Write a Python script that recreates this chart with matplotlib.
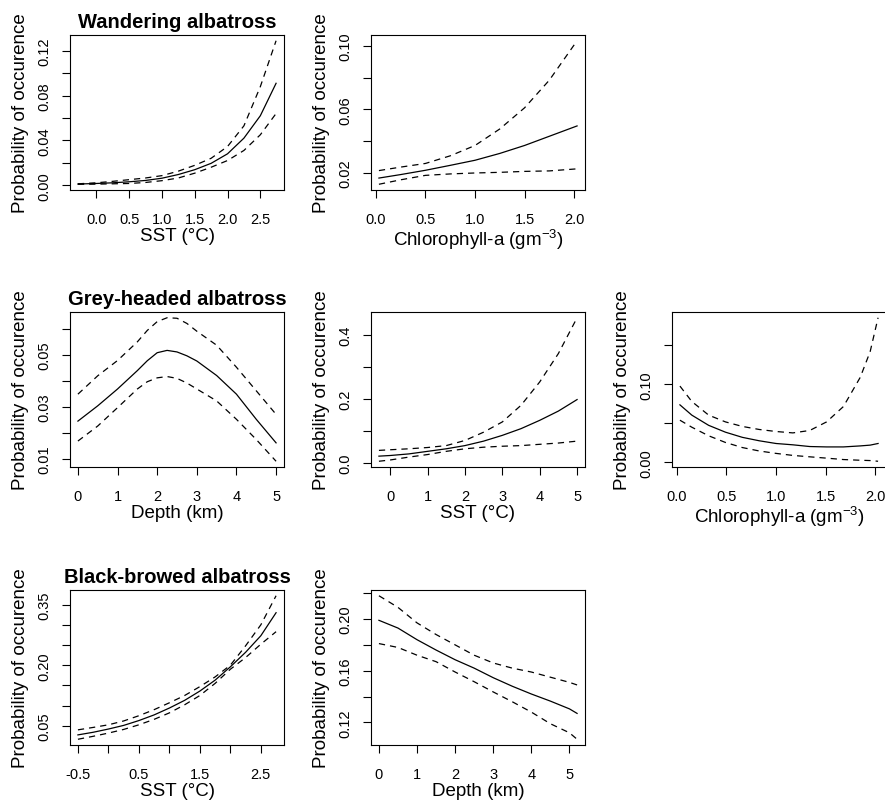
import numpy as np
import matplotlib
matplotlib.use("Agg")
import matplotlib.pyplot as plt

plt.rcParams['font.family'] = ['Liberation Sans', 'DejaVu Sans']
plt.rcParams['mathtext.fontset'] = 'custom'
plt.rcParams['mathtext.rm'] = 'Liberation Sans'
plt.rcParams['mathtext.it'] = 'Liberation Sans:italic'
plt.rcParams['mathtext.bf'] = 'Liberation Sans:bold'

# ---------------------------------------------------------------
# Partial effects (fit, lower and upper bounds) for each species
# ---------------------------------------------------------------

# Wandering albatross - SST
wa_sst_x = [-0.28, 0.0, 0.25, 0.5, 0.75, 1.0, 1.25, 1.5, 1.75, 2.0, 2.25, 2.5, 2.74]
wa_sst_fit = [0.0010, 0.0015, 0.0021, 0.0030, 0.0042, 0.0062, 0.0095, 0.0138, 0.0195, 0.028, 0.042, 0.062, 0.091]
wa_sst_lo = [0.0008, 0.0009, 0.0012, 0.0015, 0.0024, 0.0040, 0.0064, 0.0107, 0.016, 0.022, 0.031, 0.045, 0.064]
wa_sst_hi = [0.0012, 0.0021, 0.0034, 0.0049, 0.0064, 0.0085, 0.0125, 0.0177, 0.024, 0.0345, 0.053, 0.088, 0.129]

# Wandering albatross - Chlorophyll-a
wa_chl_x = [0.03, 0.25, 0.5, 0.75, 1.0, 1.25, 1.5, 1.75, 2.03]
wa_chl_fit = [0.0168, 0.019, 0.0217, 0.0248, 0.028, 0.0323, 0.0373, 0.0431, 0.0496]
wa_chl_lo = [0.0129, 0.0157, 0.0185, 0.0194, 0.020, 0.0204, 0.021, 0.0213, 0.0226]
wa_chl_hi = [0.0215, 0.0237, 0.026, 0.0308, 0.0373, 0.0477, 0.061, 0.0784, 0.1032]

# Grey-headed albatross - Depth
gh_dep_x = [0.0, 0.5, 1.0, 1.5, 1.75, 2.0, 2.25, 2.5, 2.75, 3.0, 3.5, 4.0, 4.5, 5.0]
gh_dep_fit = [0.0245, 0.0304, 0.0369, 0.044, 0.0478, 0.0509, 0.0518, 0.0512, 0.0497, 0.0477, 0.0421, 0.0349, 0.0252, 0.0161]
gh_dep_lo = [0.0168, 0.0226, 0.0297, 0.0369, 0.0397, 0.0412, 0.0417, 0.0410, 0.0392, 0.0369, 0.0323, 0.0252, 0.0174, 0.0090]
gh_dep_hi = [0.0349, 0.042, 0.0479, 0.0551, 0.0595, 0.0629, 0.0644, 0.0642, 0.0622, 0.0592, 0.0538, 0.0453, 0.0362, 0.0271]

# Grey-headed albatross - SST
gh_sst_x = [-0.3, 0.0, 0.5, 1.0, 1.5, 2.0, 2.5, 3.0, 3.5, 4.0, 4.5, 5.0]
gh_sst_fit = [0.021, 0.023, 0.028, 0.036, 0.044, 0.054, 0.068, 0.086, 0.107, 0.133, 0.162, 0.198]
gh_sst_lo = [0.005, 0.009, 0.018, 0.026, 0.036, 0.044, 0.049, 0.052, 0.054, 0.058, 0.062, 0.068]
gh_sst_hi = [0.039, 0.041, 0.044, 0.048, 0.054, 0.070, 0.096, 0.128, 0.180, 0.253, 0.342, 0.454]

# Grey-headed albatross - Chlorophyll-a
gh_chl_x = [0.03, 0.15, 0.32, 0.49, 0.66, 0.83, 1.0, 1.17, 1.34, 1.51, 1.68, 1.85, 1.95, 2.03]
gh_chl_fit = [0.0737, 0.0605, 0.0474, 0.0386, 0.032, 0.0276, 0.0241, 0.0224, 0.0202, 0.0197, 0.0197, 0.021, 0.022, 0.0241]
gh_chl_lo = [0.054, 0.045, 0.034, 0.0254, 0.0189, 0.0145, 0.0114, 0.0088, 0.007, 0.0053, 0.0035, 0.0026, 0.0022, 0.0013]
gh_chl_hi = [0.0978, 0.078, 0.0605, 0.0518, 0.046, 0.0421, 0.0395, 0.0377, 0.0408, 0.0518, 0.0715, 0.109, 0.142, 0.1855]

# Black-browed albatross - SST
bb_sst_x = [-0.5, -0.25, 0.0, 0.25, 0.5, 0.75, 1.0, 1.25, 1.5, 1.75, 2.0, 2.25, 2.5, 2.75]
bb_sst_fit = [0.0275, 0.034, 0.042, 0.051, 0.063, 0.077, 0.094, 0.113, 0.136, 0.163, 0.196, 0.232, 0.273, 0.330]
bb_sst_lo = [0.0167, 0.024, 0.032, 0.041, 0.0525, 0.066, 0.082, 0.102, 0.125, 0.155, 0.190, 0.219, 0.252, 0.283]
bb_sst_hi = [0.040, 0.046, 0.0525, 0.062, 0.075, 0.090, 0.107, 0.125, 0.147, 0.171, 0.200, 0.248, 0.300, 0.372]

# Black-browed albatross - Depth
bb_dep_x = [0.0, 0.5, 1.0, 1.5, 2.0, 2.5, 3.0, 3.5, 4.0, 4.5, 5.0, 5.2]
bb_dep_fit = [0.199, 0.193, 0.184, 0.176, 0.1685, 0.162, 0.1546, 0.148, 0.142, 0.1365, 0.1305, 0.127]
bb_dep_lo = [0.181, 0.178, 0.172, 0.167, 0.159, 0.1515, 0.1436, 0.136, 0.128, 0.119, 0.112, 0.107]
bb_dep_hi = [0.218, 0.209, 0.197, 0.188, 0.180, 0.172, 0.166, 0.162, 0.159, 0.155, 0.151, 0.149]

# axis labels
lab_y = "Probability of occurence"
lab_sst = "SST (\u00b0C)"
lab_dep = "Depth (km)"
lab_chl = "Chlorophyll-a (gm$^{-3}$)"

# tick positions / labels for each panel
wa_sst_yt = [0.0, 0.02, 0.04, 0.06, 0.08, 0.10, 0.12]
wa_sst_yl = ["0.00", "", "0.04", "", "0.08", "", "0.12"]
wa_sst_xt = [0.0, 0.5, 1.0, 1.5, 2.0, 2.5]
wa_sst_xl = ["0.0", "0.5", "1.0", "1.5", "2.0", "2.5"]

wa_chl_yt = [0.02, 0.04, 0.06, 0.08, 0.10]
wa_chl_yl = ["0.02", "", "0.06", "", "0.10"]
chl_xt = [0.0, 0.5, 1.0, 1.5, 2.0]
chl_xl = ["0.0", "0.5", "1.0", "1.5", "2.0"]

gh_dep_yt = [0.01, 0.02, 0.03, 0.04, 0.05, 0.06]
gh_dep_yl = ["0.01", "", "0.03", "", "0.05", ""]
dep_xt = [0, 1, 2, 3, 4, 5]
dep_xl = ["0", "1", "2", "3", "4", "5"]

gh_sst_yt = [0.0, 0.1, 0.2, 0.3, 0.4]
gh_sst_yl = ["0.0", "", "0.2", "", "0.4"]

gh_chl_yt = [0.0, 0.05, 0.10, 0.15]
gh_chl_yl = ["0.00", "", "0.10", ""]

bb_sst_yt = [0.05, 0.10, 0.15, 0.20, 0.25, 0.30, 0.35]
bb_sst_yl = ["0.05", "", "", "0.20", "", "", "0.35"]
bb_sst_xt = [-0.5, 0.0, 0.5, 1.0, 1.5, 2.0, 2.5]
bb_sst_xl = ["-0.5", "", "0.5", "", "1.5", "", "2.5"]

bb_dep_yt = [0.12, 0.14, 0.16, 0.18, 0.20, 0.22]
bb_dep_yl = ["0.12", "", "0.16", "", "0.20", ""]


def partial_plot(ax, x, fit, lo, hi, xlab, xt, xl, yt, yl, title=None):
    ax.plot(x, fit, color="black", lw=0.9)
    ax.plot(x, lo, color="black", lw=0.9, ls=(0, (5, 4)))
    ax.plot(x, hi, color="black", lw=0.9, ls=(0, (5, 4)))
    ax.margins(0.04)
    ax.set_xticks(xt, xl, fontsize=10.5)
    ax.set_yticks(yt, yl, fontsize=10.5, rotation=90, va="center")
    ax.tick_params(axis="x", length=6, width=0.8, pad=9.5)
    ax.tick_params(axis="y", length=6, width=0.8, pad=7.5)
    for s in ax.spines.values():
        s.set_linewidth(0.8)
    ax.set_xlabel(xlab, fontsize=13.5, labelpad=1)
    ax.set_ylabel(lab_y, fontsize=13.5, labelpad=6)
    if title:
        ax.set_title(title, fontsize=14.5, fontweight="bold", pad=6)


fig = plt.figure(figsize=(8.85, 8.03), dpi=100)
W, H = 885, 803
col_left = [70, 371, 672]
row_top = [36, 313, 591]
aw, ah = 214, 155


def panel(r, c):
    return fig.add_axes([col_left[c] / W, (H - row_top[r] - ah) / H, aw / W, ah / H])


partial_plot(panel(0, 0), wa_sst_x, wa_sst_fit, wa_sst_lo, wa_sst_hi, lab_sst,
             wa_sst_xt, wa_sst_xl, wa_sst_yt, wa_sst_yl, "Wandering albatross")
partial_plot(panel(0, 1), wa_chl_x, wa_chl_fit, wa_chl_lo, wa_chl_hi, lab_chl,
             chl_xt, chl_xl, wa_chl_yt, wa_chl_yl)

partial_plot(panel(1, 0), gh_dep_x, gh_dep_fit, gh_dep_lo, gh_dep_hi, lab_dep,
             dep_xt, dep_xl, gh_dep_yt, gh_dep_yl, "Grey-headed albatross")
partial_plot(panel(1, 1), gh_sst_x, gh_sst_fit, gh_sst_lo, gh_sst_hi, lab_sst,
             dep_xt, dep_xl, gh_sst_yt, gh_sst_yl)
partial_plot(panel(1, 2), gh_chl_x, gh_chl_fit, gh_chl_lo, gh_chl_hi, lab_chl,
             chl_xt, chl_xl, gh_chl_yt, gh_chl_yl)

partial_plot(panel(2, 0), bb_sst_x, bb_sst_fit, bb_sst_lo, bb_sst_hi, lab_sst,
             bb_sst_xt, bb_sst_xl, bb_sst_yt, bb_sst_yl, "Black-browed albatross")
partial_plot(panel(2, 1), bb_dep_x, bb_dep_fit, bb_dep_lo, bb_dep_hi, lab_dep,
             dep_xt, dep_xl, bb_dep_yt, bb_dep_yl)

fig.savefig("out.png", dpi=100)
